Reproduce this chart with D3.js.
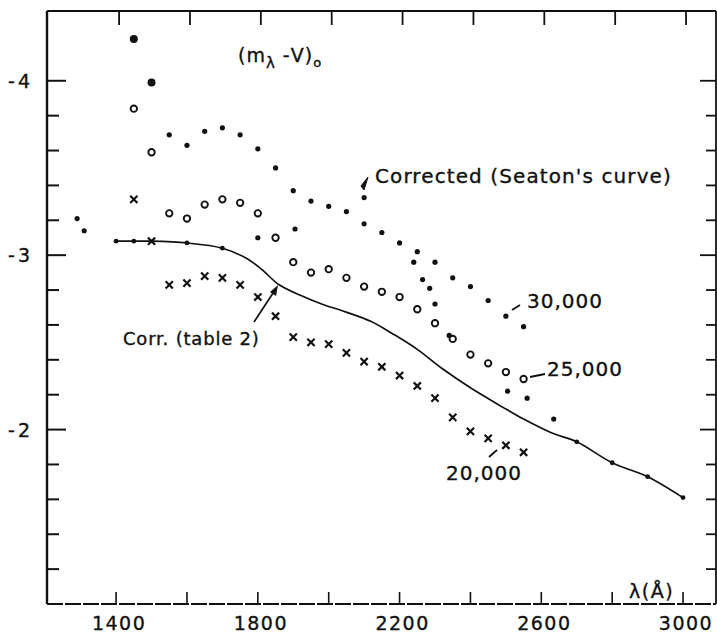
<!DOCTYPE html>
<html>
<head>
<meta charset="utf-8">
<script src="https://cdn.jsdelivr.net/npm/d3@7"></script>
<style>
  body { margin: 0; background: #fff; }
  text { font-family: "DejaVu Sans", sans-serif; fill: #111; stroke: #111; stroke-width: 0.35; }
</style>
</head>
<body>
<div id="container"></div>
<script>
// Wavelengths of the model points (every 50 A)
const lambdaModel = [1450, 1500, 1550, 1600, 1650, 1700, 1750, 1800, 1850, 1900, 1950, 2000,
  2050, 2100, 2150, 2200, 2250, 2300, 2350, 2400, 2450, 2500, 2550];
// (m_lambda - V)_0 for the three models
const model30000 = [-4.24, -3.99, -3.69, -3.63, -3.71, -3.73, -3.69, -3.61, -3.50, -3.37, -3.31, -3.28,
  -3.25, -3.18, -3.13, -3.07, -3.02, -2.96, -2.87, -2.82, -2.74, -2.65, -2.59];
const model25000 = [-3.84, -3.59, -3.24, -3.21, -3.29, -3.32, -3.30, -3.24, -3.10, -2.96, -2.90, -2.92,
  -2.87, -2.82, -2.79, -2.76, -2.69, -2.61, -2.52, -2.43, -2.38, -2.33, -2.29];
const model20000 = [-3.32, -3.08, -2.83, -2.84, -2.88, -2.87, -2.83, -2.76, -2.65, -2.53, -2.50, -2.49,
  -2.44, -2.39, -2.36, -2.31, -2.25, -2.18, -2.07, -1.99, -1.95, -1.91, -1.87];

// Observations corrected with Seaton's curve
const lambdaSeaton = [1290, 1310, 1800, 1905, 2100, 2240, 2265, 2285, 2300, 2340, 2505, 2560, 2635];
const seaton = [-3.21, -3.14, -3.10, -3.15, -3.33, -2.96, -2.86, -2.81, -2.72, -2.54, -2.22, -2.18, -2.06];

// Observations corrected with table 2 (the solid curve)
const lambdaTable = [1400, 1450, 1500, 1600, 1700, 1770, 1810, 1860, 1920, 1980, 2040, 2120,
  2180, 2250, 2320, 2400, 2490, 2550, 2630, 2700, 2800, 2900, 3000];
const table2 = [-3.08, -3.08, -3.08, -3.07, -3.04, -2.98, -2.92, -2.83, -2.77, -2.72, -2.68, -2.62,
  -2.55, -2.46, -2.35, -2.24, -2.13, -2.06, -1.98, -1.93, -1.81, -1.73, -1.61];
// measured points marked on the curve
const lambdaTableDots = [1400, 1450, 1600, 1700, 2700, 2800, 2900, 3000];
const tableDots = [-3.08, -3.08, -3.07, -3.04, -1.93, -1.81, -1.73, -1.61];

// Axis ticks
const xTicks = [1400, 1600, 1800, 2000, 2200, 2400, 2600, 2800, 3000];
const xTickLabels = ["1400", "1800", "2200", "2600", "3000"];
const yTicks = [-4.0, -3.8, -3.6, -3.4, -3.2, -3.0, -2.8, -2.6, -2.4, -2.2, -2.0, -1.8, -1.6, -1.4, -1.2];
const yTickLabels = ["-4", "-3", "-2"];

const width = 717;
const height = 640;

let x = d3.scaleLinear().domain([1205, 3093]).range([47, 716]);
let y = d3.scaleLinear().domain([-4.4, -1.0]).range([11, 604]);

let svg = d3.create("svg")
  .attr("width", width)
  .attr("height", height);

// Frame
let frame = svg.append("g").attr("stroke", "#111").attr("fill", "none");
frame.append("line").attr("x1", x.range()[0]).attr("x2", x.range()[0])
  .attr("y1", y.range()[0]).attr("y2", y.range()[1]).attr("stroke-width", 2.4);
frame.append("line").attr("x1", x.range()[0]).attr("x2", x.range()[1])
  .attr("y1", y.range()[0]).attr("y2", y.range()[0]).attr("stroke-width", 2);
frame.append("line").attr("x1", x.range()[1]).attr("x2", x.range()[1])
  .attr("y1", y.range()[0]).attr("y2", y.range()[1]).attr("stroke-width", 1.8);
frame.append("line").attr("x1", x.range()[0]).attr("x2", x.range()[1])
  .attr("y1", y.range()[1]).attr("y2", y.range()[1]).attr("stroke-width", 1.8)
  .attr("stroke-dasharray", "16 2");

// Ticks on all four sides, pointing inward
const isMajor = v => yTickLabels.includes(String(Math.round(v * 10) / 10));
frame.selectAll(".ly").data(yTicks).enter().append("line")
  .attr("x1", x.range()[0]).attr("x2", d => x.range()[0] + (isMajor(d) ? 19 : 12))
  .attr("y1", d => y(d)).attr("y2", d => y(d)).attr("stroke-width", 2);
frame.selectAll(".ry").data(yTicks).enter().append("line")
  .attr("x1", x.range()[1]).attr("x2", d => x.range()[1] - (isMajor(d) ? 16 : 10))
  .attr("y1", d => y(d)).attr("y2", d => y(d)).attr("stroke-width", 1.8);
frame.selectAll(".tx").data(xTicks).enter().append("line")
  .attr("x1", d => x(d) + 3).attr("x2", d => x(d) + 3)
  .attr("y1", y.range()[0]).attr("y2", y.range()[0] + 14).attr("stroke-width", 1.8);
frame.selectAll(".bx").data(xTicks).enter().append("line")
  .attr("x1", d => x(d)).attr("x2", d => x(d))
  .attr("y1", y.range()[1]).attr("y2", y.range()[1] - 12).attr("stroke-width", 1.6);

// Tick labels
svg.selectAll(".xl").data(xTickLabels).enter().append("text")
  .attr("x", d => x(+d) + 3).attr("y", 630)
  .attr("text-anchor", "middle").attr("font-size", 19).attr("letter-spacing", 1.5)
  .text(d => d);
svg.selectAll(".yl").data(yTickLabels).enter().append("text")
  .attr("x", 33).attr("y", d => y(+d) + 7)
  .attr("text-anchor", "end").attr("font-size", 19).attr("letter-spacing", 3)
  .text(d => d);

// Solid curve (table 2)
let line = d3.line().x(d => x(d[0])).y(d => y(d[1])).curve(d3.curveCatmullRom.alpha(0.5));
svg.append("path")
  .datum(d3.zip(lambdaTable, table2))
  .attr("d", line)
  .attr("fill", "none").attr("stroke", "#111").attr("stroke-width", 1.7);
svg.selectAll(".tdot").data(d3.zip(lambdaTableDots, tableDots)).enter().append("circle")
  .attr("cx", d => x(d[0])).attr("cy", d => y(d[1])).attr("r", 2.4).attr("fill", "#111");

// 30,000 K : filled dots (the first two are drawn larger)
svg.selectAll(".d30").data(d3.zip(lambdaModel, model30000)).enter().append("circle")
  .attr("cx", d => x(d[0])).attr("cy", d => y(d[1]))
  .attr("r", (d, i) => i < 2 ? 4 : 2.6).attr("fill", "#111");

// 25,000 K : open circles
svg.selectAll(".d25").data(d3.zip(lambdaModel, model25000)).enter().append("circle")
  .attr("cx", d => x(d[0])).attr("cy", d => y(d[1]))
  .attr("r", 3.2).attr("fill", "#fff").attr("stroke", "#111").attr("stroke-width", 1.9);

// 20,000 K : crosses
svg.selectAll(".d20").data(d3.zip(lambdaModel, model20000)).enter().append("path")
  .attr("d", d => {
    let cx = x(d[0]), cy = y(d[1]), s = 3.6;
    return "M" + (cx - s) + "," + (cy - s) + "L" + (cx + s) + "," + (cy + s) +
      "M" + (cx + s) + "," + (cy - s) + "L" + (cx - s) + "," + (cy + s);
  })
  .attr("stroke", "#111").attr("stroke-width", 2.2).attr("fill", "none");

// Seaton corrected points
svg.selectAll(".sea").data(d3.zip(lambdaSeaton, seaton)).enter().append("circle")
  .attr("cx", d => x(d[0])).attr("cy", d => y(d[1])).attr("r", 2.6).attr("fill", "#111");

// Annotations
let ann = svg.append("g");
let title = ann.append("text").attr("x", 238).attr("y", 62).attr("font-size", 19).attr("letter-spacing", 1);
title.append("tspan").text("(m");
title.append("tspan").attr("dy", 6).attr("font-size", 15).text("λ");
title.append("tspan").attr("dy", -6).text(" -V)");
title.append("tspan").attr("dy", 5).attr("font-size", 13).text("o");

ann.append("text").attr("x", 375).attr("y", 183).attr("font-size", 20).attr("letter-spacing", 1.1)
  .text("Corrected (Seaton's curve)");
ann.append("text").attr("x", 527).attr("y", 308).attr("font-size", 20).attr("letter-spacing", 1)
  .text("30,000");
ann.append("text").attr("x", 547).attr("y", 376).attr("font-size", 20).attr("letter-spacing", 1)
  .text("25,000");
ann.append("text").attr("x", 446).attr("y", 480).attr("font-size", 20).attr("letter-spacing", 1)
  .text("20,000");
ann.append("text").attr("x", 123).attr("y", 345).attr("font-size", 18).attr("letter-spacing", 0.8)
  .text("Corr. (table 2)");
ann.append("text").attr("x", 629).attr("y", 598).attr("font-size", 19).attr("letter-spacing", 1.5)
  .text("λ(Å)");

// Leader lines
const leaders = [[512, 310, 520, 305], [530, 377, 545, 374], [489, 457, 497, 450]];
ann.selectAll(".lead").data(leaders).enter().append("line")
  .attr("x1", d => d[0]).attr("y1", d => d[1]).attr("x2", d => d[2]).attr("y2", d => d[3])
  .attr("stroke", "#111").attr("stroke-width", 1.8);

// Arrow to the table 2 curve
ann.append("line").attr("x1", 254).attr("y1", 322).attr("x2", 275).attr("y2", 290)
  .attr("stroke", "#111").attr("stroke-width", 1.7);
ann.append("path").attr("d", "M278,285 L270,292 L276,296 Z").attr("fill", "#111");
// Arrow head above the Seaton point
ann.append("path").attr("d", "M368,177 L361,186 L364,190 Z").attr("fill", "#111")
  .attr("stroke", "#111").attr("stroke-width", 1);

document.getElementById("container").append(svg.node());
</script>
</body>
</html>
